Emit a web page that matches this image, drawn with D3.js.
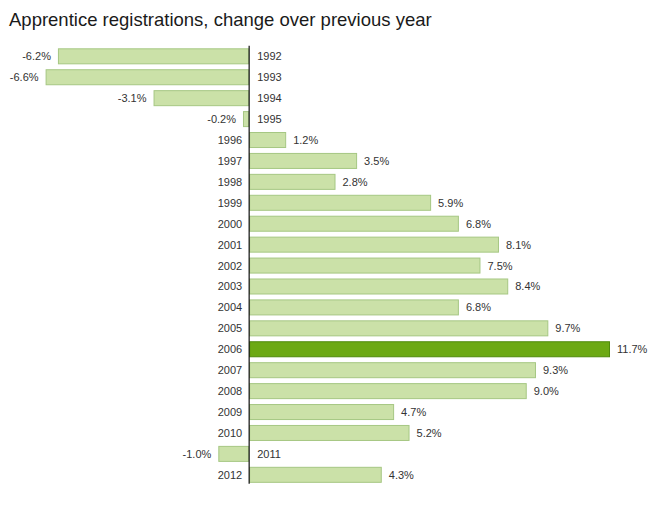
<!DOCTYPE html>
<html>
<head>
<meta charset="utf-8">
<script src="https://cdn.jsdelivr.net/npm/d3@7"></script>
<style>
  body { margin: 0; background: #fff; }
  text { font-family: "Liberation Sans", Helvetica, Arial, sans-serif; }
</style>
</head>
<body>
<svg id="chart" width="650" height="510"></svg>
<script>
// data
const years = ['1992','1993','1994','1995','1996','1997','1998','1999','2000','2001','2002',
               '2003','2004','2005','2006','2007','2008','2009','2010','2011','2012'];
const change = [-6.2, -6.6, -3.1, -0.2, 1.2, 3.5, 2.8, 5.9, 6.8, 8.1, 7.5,
                8.4, 6.8, 9.7, 11.7, 9.3, 9.0, 4.7, 5.2, -1.0, 4.3];
const highlight = '2006';

const rows = years.map((y, i) => ({year: y, v: change[i]}));

const svg = d3.select('#chart');

//title
svg.append('text')
    .attr('x', 9)
    .attr('y', 26)
    .attr('font-size', '18.5px')
    .attr('fill', '#1a1a1a')
    .text('Apprentice registrations, change over previous year');

//scales
const x = d3.scaleLinear()
    .domain([d3.min(change), d3.max(change)])
    .range([45.6, 610]);

const y = d3.scaleBand()
    .domain(years)
    .range([45.8, 45.8 + 21 * 20.93])
    .paddingInner(0.235)
    .paddingOuter(0.12);

//bars
svg.append('g')
    .selectAll('rect')
    .data(rows)
    .enter()
    .append('rect')
    .attr('x', d => x(Math.min(0, d.v)) + 0.5)
    .attr('y', d => y(d.year) + 0.5)
    .attr('width', d => Math.abs(x(d.v) - x(0)) - 1)
    .attr('height', y.bandwidth() - 1)
    .attr('fill', d => d.year === highlight ? '#6ca914' : '#cbe1a8')
    .attr('stroke', d => d.year === highlight ? '#4e8a0c' : '#a6c783')
    .attr('stroke-width', 1);

//zero line
svg.append('line')
    .attr('x1', x(0))
    .attr('x2', x(0))
    .attr('y1', y.range()[0])
    .attr('y2', y(years[years.length - 1]) + y.bandwidth() + 1)
    .attr('stroke', '#111')
    .attr('stroke-width', 1.2);

//year labels
svg.append('g')
    .selectAll('text')
    .data(rows)
    .enter()
    .append('text')
    .attr('x', d => d.v < 0 ? x(0) + 8 : x(0) - 7)
    .attr('y', d => y(d.year) + y.bandwidth() / 2)
    .attr('dy', '0.36em')
    .attr('text-anchor', d => d.v < 0 ? 'start' : 'end')
    .attr('font-size', '11px')
    .attr('fill', '#333')
    .text(d => d.year);

//value labels
svg.append('g')
    .selectAll('text')
    .data(rows)
    .enter()
    .append('text')
    .attr('x', d => d.v < 0 ? x(d.v) - 7 : x(d.v) + 7)
    .attr('y', d => y(d.year) + y.bandwidth() / 2)
    .attr('dy', '0.36em')
    .attr('text-anchor', d => d.v < 0 ? 'end' : 'start')
    .attr('font-size', '11px')
    .attr('fill', '#333')
    .text(d => d.v.toFixed(1) + '%');
</script>
</body>
</html>
